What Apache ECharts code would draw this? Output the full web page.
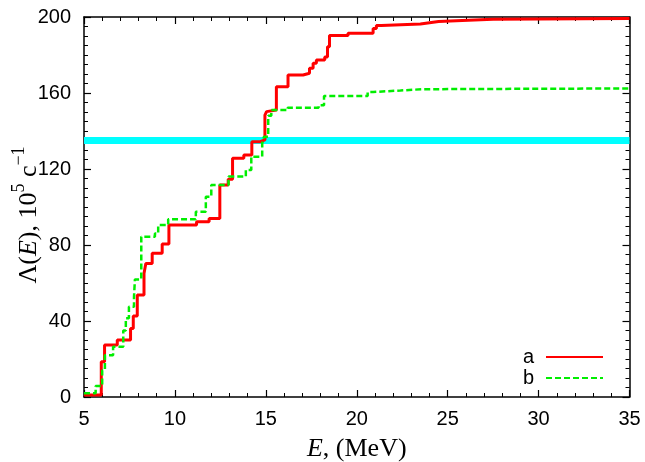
<!DOCTYPE html>
<html>
<head>
<meta charset="utf-8">
<script src="https://cdn.jsdelivr.net/npm/echarts@6/dist/echarts.min.js"></script>
<style>
  html, body { margin: 0; padding: 0; background: #fff; }
  #chart { width: 645px; height: 462px; }
</style>
</head>
<body>
<div id="chart"></div>
<script>
// Cumulative rate Λ(E): each entry is the energy where a new step level begins
const energyA = [5.0, 5.95, 6.13, 6.83, 7.56, 7.71, 7.93, 8.3, 8.4, 8.75, 9.3, 9.67,
  11.19, 11.88, 12.47, 12.93, 13.17, 13.79, 14.23, 14.7, 14.95, 15.04, 15.13, 15.58,
  16.22, 17.05, 17.4, 17.6, 17.78, 18.24, 18.39, 18.5, 19.52, 20.9, 21.08, 21.35,
  23.5, 24.0, 24.5, 25.8, 27.5, 35.0];
const lambdaA = [1, 18.6, 27.4, 30, 36, 42.6, 53.7, 65, 70.3, 75.6, 80.5, 90.5,
  92.3, 94, 111.6, 114.6, 125.6, 127.4, 134.4, 135.3, 148.4, 150.2, 151, 163.3,
  169.5, 170.4, 173, 175.6, 177.4, 179, 184.4, 190.2, 191.4, 194, 195.5, 196.3,
  197, 197.6, 198.2, 198.8, 199.2, 199.2];

const energyB = [5.0, 5.64, 6.0, 6.15, 6.6, 7.16, 7.3, 7.47, 7.75, 7.8, 8.15, 8.9,
  9.08, 9.63, 11.15, 11.7, 12.0, 12.95, 13.9, 14.2, 14.8, 14.9, 15.13, 15.3, 16.2,
  17.9, 18.2, 20.6, 20.9, 22.4, 23.6, 35.0];
const lambdaB = [2, 5.8, 14, 22, 26.5, 35, 41.4, 47.5, 52.8, 61.9, 84.4, 86,
  90.5, 93.5, 97.5, 105.4, 111.6, 116, 119.5, 126.5, 133.5, 137, 148, 151, 152.3,
  153.5, 158.4, 160.5, 161.3, 162, 162.4, 162.6];

// Horizontal reference level across the full energy range
const levelEnergy = [5, 35];
const levelValue = [135, 135];

const seriesNames = ['a', 'b'];
const xRange = [5, 35];
const yRange = [0, 200];
const xStep = 5;
const yStep = 40;

const pairs = (xs, ys) => xs.map((x, i) => [x, ys[i]]);

const SANS = 'Liberation Sans';
const SERIF = 'Liberation Serif';

function valueAxis(range, step, minorSplit, pos, showLabels, extra) {
  return Object.assign({
    type: 'value',
    position: pos,
    min: range[0],
    max: range[1],
    interval: step,
    nameMoveOverlap: false,
    axisLine: { show: true, onZero: false, lineStyle: { color: '#000', width: 1.5 } },
    axisTick: { show: true, inside: true, length: 7, lineStyle: { color: '#000', width: 1.2 } },
    minorTick: { show: true, splitNumber: minorSplit, length: 4, lineStyle: { color: '#000', width: 1 } },
    splitLine: { show: false },
    minorSplitLine: { show: false },
    axisLabel: { show: showLabels, color: '#000', fontFamily: SANS, fontSize: 20 }
  }, extra || {});
}

const chart = echarts.init(document.getElementById('chart'), null, { renderer: 'canvas' });

chart.setOption({
  animation: false,
  backgroundColor: '#fff',
  grid: { left: 84, right: 15.5, top: 17, bottom: 65, containLabel: false, outerBoundsMode: 'none' },
  xAxis: [
    valueAxis(xRange, xStep, 5, 'bottom', true, {
      axisLabel: { show: true, color: '#000', fontFamily: SANS, fontSize: 20, margin: 12 },
      name: '{i|E}{n|, (MeV)}',
      nameLocation: 'middle',
      nameGap: 39,
      nameTextStyle: {
        rich: {
          i: { fontFamily: SERIF, fontSize: 26, fontStyle: 'italic', color: '#000' },
          n: { fontFamily: SERIF, fontSize: 26, color: '#000' }
        }
      }
    }),
    valueAxis(xRange, xStep, 5, 'top', false)
  ],
  yAxis: [
    valueAxis(yRange, yStep, 8, 'left', true, {
      axisLabel: { show: true, color: '#000', fontFamily: SANS, fontSize: 20, margin: 13 },
      name: '{n|Λ(}{i|E}{n|), 10}{s|5}{n| с}{s|−1}',
      nameLocation: 'middle',
      nameRotate: 90,
      nameGap: 42,
      nameTextStyle: {
        padding: [0, 16, 0, 0],
        rich: {
          n: { fontFamily: SERIF, fontSize: 26, lineHeight: 32, verticalAlign: 'bottom', color: '#000' },
          i: { fontFamily: SERIF, fontSize: 26, lineHeight: 32, verticalAlign: 'bottom', fontStyle: 'italic', color: '#000' },
          s: { fontFamily: SERIF, fontSize: 18, lineHeight: 18, verticalAlign: 'top', color: '#000' }
        }
      }
    }),
    valueAxis(yRange, yStep, 8, 'right', false)
  ],
  legend: {
    data: seriesNames,
    orient: 'vertical',
    align: 'right',
    right: 41,
    top: 347,
    padding: 0,
    itemWidth: 57,
    itemHeight: 8,
    itemGap: 1,
    itemStyle: { opacity: 0 },
    textStyle: { fontFamily: SANS, fontSize: 20, color: '#000', padding: [0, 7, 0, 0] }
  },
  series: [
    {
      name: 'level',
      type: 'line',
      data: pairs(levelEnergy, levelValue),
      symbol: 'none',
      silent: true,
      lineStyle: { color: '#00ffff', width: 7 },
      z: 1
    },
    {
      name: seriesNames[0],
      type: 'line',
      step: 'end',
      data: pairs(energyA, lambdaA),
      symbol: 'none',
      color: '#ff0000',
      lineStyle: { color: '#ff0000', width: 3 },
      z: 2
    },
    {
      name: seriesNames[1],
      type: 'line',
      step: 'end',
      data: pairs(energyB, lambdaB),
      symbol: 'none',
      color: '#00ee00',
      lineStyle: { color: '#00ee00', width: 2.5, type: [6, 3] },
      z: 3
    }
  ]
});
</script>
</body>
</html>
